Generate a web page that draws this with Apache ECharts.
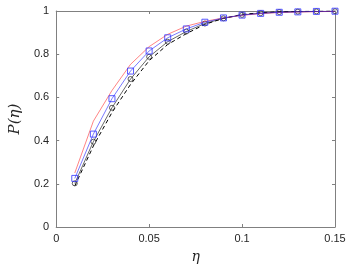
<!DOCTYPE html>
<html><head><meta charset="utf-8">
<script src="https://cdn.jsdelivr.net/npm/echarts@6/dist/echarts.min.js"></script>
<style>html,body{margin:0;padding:0;background:#fff}#c{width:354px;height:271px}</style>
</head><body><div id="c"></div>
<script>
const eta = [0.01,0.02,0.03,0.04,0.05,0.06,0.07,0.08,0.09,0.10,0.11,0.12,0.13,0.14,0.15];
const redVals = [0.25,0.49,0.632,0.753,0.835,0.892,0.93,0.952,0.968,0.98,0.988,0.993,0.995,0.997,0.998];
const blueVals = [0.225,0.43,0.594,0.722,0.815,0.876,0.917,0.948,0.968,0.981,0.989,0.994,0.996,0.998,0.999];
const circVals = [0.202,0.395,0.552,0.685,0.788,0.858,0.905,0.942,0.966,0.982,0.99,0.995,0.997,0.998,0.999];
const dashVals = [0.19,0.375,0.53,0.66,0.77,0.845,0.895,0.938,0.966,0.984,0.992,0.996,0.998,0.999,1.0];
const xTicks = [0,0.05,0.1,0.15];
const yTicks = [0,0.2,0.4,0.6,0.8,1];

const pairs = v => eta.map((x,i)=>[x,v[i]]);
const axisCol = '#808080';
const labCol = '#262626';
const chart = echarts.init(document.getElementById('c'));
chart.setOption({
  animation:false,
  grid:{left:54,right:19,top:11,bottom:44},
  xAxis:[{
    type:'value',min:0,max:0.15,interval:0.05,
    axisLine:{onZero:false,lineStyle:{color:axisCol,width:1}},
    axisTick:{inside:true,length:3,lineStyle:{color:axisCol}},
    splitLine:{show:false},
    axisLabel:{color:labCol,fontSize:11,fontFamily:'Liberation Sans, Arial',margin:6,
      formatter:v=>String(+v.toFixed(2))},
    name:'η',nameLocation:'middle',nameGap:23,
    nameTextStyle:{fontFamily:'DejaVu Serif, serif',fontStyle:'italic',fontSize:14,color:labCol}
  },{
    type:'value',min:0,max:0.15,interval:0.05,position:'top',
    axisLine:{onZero:false,lineStyle:{color:axisCol,width:1}},
    axisTick:{inside:true,length:3,lineStyle:{color:axisCol}},
    axisLabel:{show:false},splitLine:{show:false}
  }],
  yAxis:[{
    type:'value',min:0,max:1,interval:0.2,
    axisLine:{onZero:false,lineStyle:{color:axisCol,width:1}},
    axisTick:{inside:true,length:3,lineStyle:{color:axisCol}},
    splitLine:{show:false},
    axisLabel:{color:labCol,fontSize:11,fontFamily:'Liberation Sans, Arial',margin:7,
      formatter:v=>String(+v.toFixed(1))},
    name:'P(η)',nameLocation:'middle',nameGap:28,nameRotate:90,
    nameTextStyle:{fontFamily:'DejaVu Serif, serif',fontStyle:'italic',fontSize:15,color:labCol}
  },{
    type:'value',min:0,max:1,interval:0.2,position:'right',
    axisLine:{onZero:false,lineStyle:{color:axisCol,width:1}},
    axisTick:{inside:true,length:3,lineStyle:{color:axisCol}},
    axisLabel:{show:false},splitLine:{show:false}
  }],
  series:[
    {type:'line',data:pairs(dashVals),symbol:'none',lineStyle:{color:'#000',width:1,type:[4,3]},z:2},
    {type:'line',data:pairs(circVals),symbol:'circle',symbolSize:5,showAllSymbol:true,
      lineStyle:{color:'#000',width:0.6},itemStyle:{color:'rgba(0,0,0,0)',borderColor:'#333',borderWidth:0.8},z:3},
    {type:'line',data:pairs(redVals),symbol:'none',lineStyle:{color:'#ff3030',width:0.6},z:4},
    {type:'line',data:pairs(blueVals),symbol:'rect',symbolSize:6,showAllSymbol:true,
      lineStyle:{color:'#2020ff',width:0.6},itemStyle:{color:'rgba(0,0,0,0)',borderColor:'#3030ff',borderWidth:0.8},z:5}
  ]
});
</script></body></html>
